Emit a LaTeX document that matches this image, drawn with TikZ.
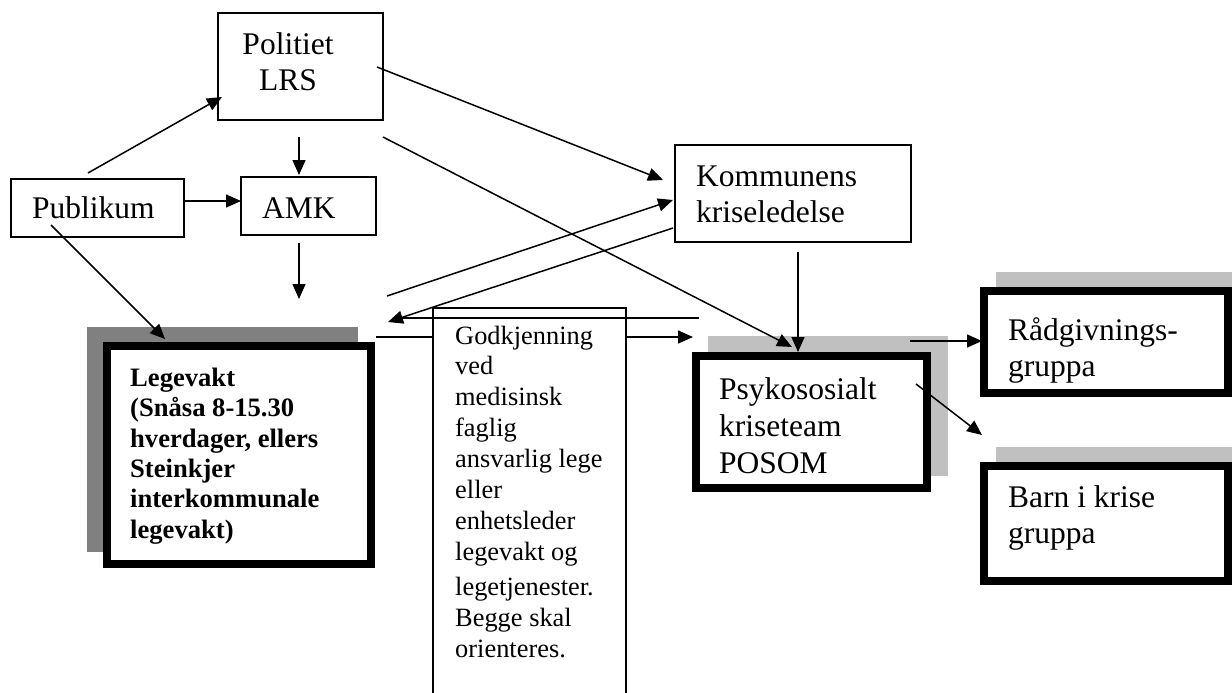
\documentclass[tikz,border=0pt]{standalone}
\usepackage{fontspec}
\setmainfont{Liberation Serif}
\usetikzlibrary{arrows.meta}
\definecolor{shadowdark}{HTML}{808080}
\definecolor{shadowlight}{HTML}{C0C0C0}
\begin{document}
\begin{tikzpicture}[x=1pt,y=-1pt,
  thinbox/.style={draw, line width=1.5pt, fill=white, inner sep=0pt, outer sep=0pt},
  thickbox/.style={draw, line width=8pt, fill=white, inner sep=0pt, outer sep=0pt},
  shadowbox/.style={inner sep=0pt, outer sep=0pt},
  lbl/.style={anchor=base west, inner sep=0pt, align=left, font=\fontsize{31.5}{36}\selectfont},
  conn/.style={line width=1.5pt, -{Triangle[length=15pt,width=13pt]}},
  plainline/.style={line width=1.5pt}]
\clip (0,0) rectangle (1232,693);
\fill[white] (0,0) rectangle (1232,693);

% connector end points
\coordinate (pubA) at (88,173);   \coordinate (polA) at (222,97);
\coordinate (polB) at (299,137);  \coordinate (amkA) at (299,175);
\coordinate (pubB) at (185,201);  \coordinate (amkB) at (241,201);
\coordinate (amkC) at (299,243);  \coordinate (legA) at (299,299);
\coordinate (pubC) at (51,225);   \coordinate (legB) at (165,339);
\coordinate (polC) at (377,67);   \coordinate (komA) at (663,180);
\coordinate (polD) at (383,137);  \coordinate (psyA) at (792,347);
\coordinate (legC) at (387,296);  \coordinate (komB) at (673,200);
\coordinate (komC) at (673,228);  \coordinate (legD) at (388,322);
\coordinate (psyB) at (699,318);  \coordinate (legE) at (400,318);
\coordinate (legF) at (376,337);  \coordinate (psyC) at (693,337);
\coordinate (komD) at (798,252);  \coordinate (psyD) at (798,352);
\coordinate (psyE) at (910,341);  \coordinate (radA) at (982,341);
\coordinate (psyF) at (916,384);  \coordinate (barA) at (982,435);

% thin boxes
\node[thinbox, minimum width=165pt, minimum height=107pt] (pol) at (300.5,66.5) {};
\node[thinbox, minimum width=173pt, minimum height=58pt] (pub) at (97.5,208) {};
\node[thinbox, minimum width=135pt, minimum height=58pt] (amk) at (308.5,206) {};
\node[thinbox, minimum width=236pt, minimum height=97pt] (kom) at (793,193.5) {};

% shadowed thick boxes
\node[shadowbox, fill=shadowdark, minimum width=271pt, minimum height=225pt] (legS) at (222.5,439.5) {};
\node[thickbox, minimum width=264pt, minimum height=218pt] (leg) at (239,455) {};
\node[shadowbox, fill=shadowlight, minimum width=240pt, minimum height=140pt] (psyS) at (828,406) {};
\node[thickbox, minimum width=231pt, minimum height=132pt] (psy) at (811.5,422) {};
\node[shadowbox, fill=shadowlight, minimum width=244pt, minimum height=110pt] (radS) at (1118,327) {};
\node[thickbox, minimum width=244pt, minimum height=102pt] (rad) at (1106,342) {};
\node[shadowbox, fill=shadowlight, minimum width=244pt, minimum height=123pt] (barS) at (1118,508.5) {};
\node[thickbox, minimum width=244pt, minimum height=115pt] (bar) at (1106,523.5) {};

% line passing behind the Godkjenning box
\draw[conn] (legF) -- (psyC);
\node[thinbox, minimum width=193pt, minimum height=412pt] (god) at (529.5,514) {};

% connectors
\draw[conn] (pubA) -- (polA);
\draw[conn] (polB) -- (amkA);
\draw[conn] (pubB) -- (amkB);
\draw[conn] (amkC) -- (legA);
\draw[conn] (pubC) -- (legB);
\draw[conn] (polC) -- (komA);
\draw[conn] (polD) -- (psyA);
\draw[conn] (legC) -- (komB);
\draw[conn] (komC) -- (legD);
\draw[plainline] (psyB) -- (legE);
\draw[conn] (komD) -- (psyD);
\draw[conn] (psyE) -- (radA);
\draw[conn] (psyF) -- (barA);

% texts (base anchor = baseline of the last line)
\node[lbl, align=center, anchor=base] (polT) at (288,91) {Politiet\\LRS};
\node[lbl] (pubT) at (32,218) {Publikum};
\node[lbl] (amkT) at (262,218) {AMK};
\node[lbl] (komT) at (696,222) {Kommunens\\kriseledelse};
\node[lbl, font=\fontsize{26.6}{30.3}\selectfont\bfseries] (legT) at (130,538)
  {Legevakt\\(Snåsa 8-15.30\\hverdager, ellers\\Steinkjer\\interkommunale\\legevakt)};
\node[lbl, font=\fontsize{26.4}{30.9}\selectfont] (godT) at (455,657)
  {Godkjenning\\ved\\medisinsk\\faglig\\ansvarlig lege\\eller\\enhetsleder\\legevakt og\\[4pt]legetjenester.\\Begge skal\\orienteres.};
\node[lbl, font=\fontsize{31.5}{37}\selectfont] (psyT) at (719,473) {Psykososialt\\kriseteam\\POSOM};
\node[lbl, font=\fontsize{31.5}{36}\selectfont] (radT) at (1008,376) {Rådgivnings-\\gruppa};
\node[lbl, font=\fontsize{31.5}{36}\selectfont] (barT) at (1008,543) {Barn i krise\\gruppa};
\end{tikzpicture}
\end{document}
